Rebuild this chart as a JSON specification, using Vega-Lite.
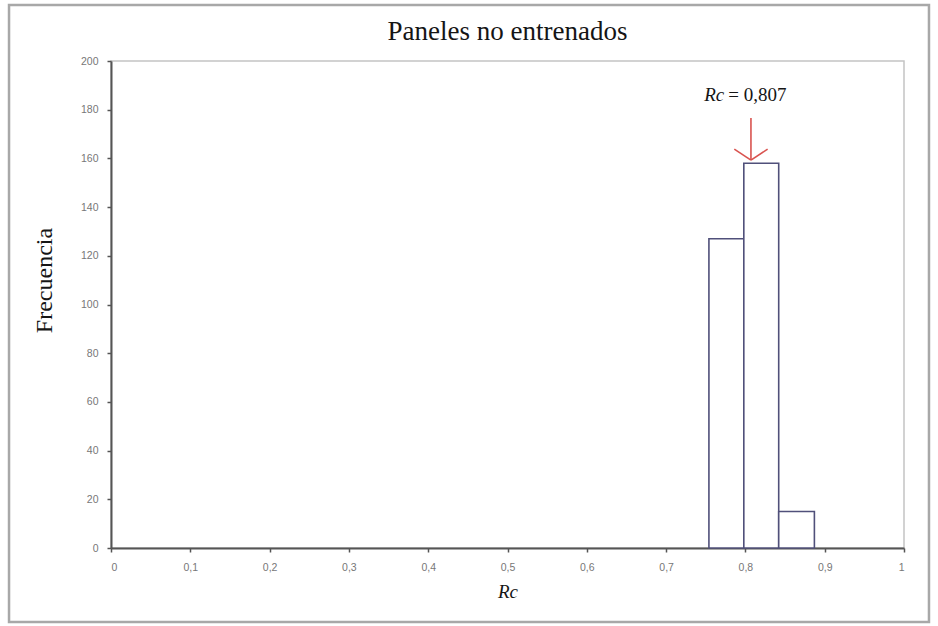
{
  "$schema": "https://vega.github.io/schema/vega-lite/v6.json",
  "width": 793,
  "height": 487,
  "autosize": {"type": "none"},
  "padding": {"left": 111, "top": 61, "right": 34, "bottom": 78},
  "background": "white",
  "title": {"text": "Paneles no entrenados", "font": "Liberation Serif", "fontSize": 27, "fontWeight": "normal", "color": "#151515", "anchor": "middle", "offset": -42},
  "config": {
    "view": {"stroke": "#c4c4c4", "strokeWidth": 1.5},
    "axis": {"grid": false, "domainColor": "#555", "domainWidth": 2, "tickColor": "#555", "tickWidth": 1.5, "tickSize": 4, "labelFont": "Liberation Sans", "labelFontSize": 10.5, "labelColor": "#777", "titleFont": "Liberation Serif", "titleFontWeight": "normal", "titleColor": "#151515"}
  },
  "datasets": {
    "bins": [
      {"lo": 0.754, "hi": 0.798, "count": 127},
      {"lo": 0.798, "hi": 0.842, "count": 158},
      {"lo": 0.842, "hi": 0.887, "count": 15}
    ],
    "arrow": [
      {"x": 0.807, "y": 176.6, "x2": 0.807, "y2": 159.3},
      {"x": 0.786, "y": 163.8, "x2": 0.807, "y2": 159.3},
      {"x": 0.828, "y": 163.8, "x2": 0.807, "y2": 159.3}
    ],
    "frame": [
      {"x": -0.1286, "x2": 1.0315, "y": 223.0, "y2": -30.4}
    ],
    "label": [
      {"x": 0.748, "y": 186, "t1": "Rc", "t2": "= 0,807"}
    ]
  },
  "layer": [
    {
      "data": {"name": "frame"},
      "mark": {"type": "rect", "fill": null, "stroke": "#a8a8a8", "strokeWidth": 2.5, "clip": false},
      "encoding": {
        "x": {"field": "x", "type": "quantitative", "scale": {"domain": [0, 1], "nice": false, "zero": false}},
        "x2": {"field": "x2"},
        "y": {"field": "y", "type": "quantitative", "scale": {"domain": [0, 200], "nice": false, "zero": false}},
        "y2": {"field": "y2"}
      }
    },
    {
      "data": {"name": "bins"},
      "mark": {"type": "rect", "fill": "white", "stroke": "#50507a", "strokeWidth": 1.6},
      "encoding": {
        "x": {"field": "lo", "type": "quantitative",
          "scale": {"domain": [0, 1], "nice": false, "zero": false},
          "axis": {"values": [0, 0.1, 0.2, 0.3, 0.4, 0.5, 0.6, 0.7, 0.8, 0.9, 1], "labelPadding": 10,
            "labelExpr": "datum.value == 0 ? '0' : datum.value == 1 ? '1' : replace(format(datum.value, '.1f'), '.', ',')",
            "title": "Rc", "titleFontSize": 19, "titleFontStyle": "italic", "titlePadding": 10}},
        "x2": {"field": "hi"},
        "y": {"field": "count", "type": "quantitative",
          "scale": {"domain": [0, 200], "nice": false},
          "axis": {"values": [0, 20, 40, 60, 80, 100, 120, 140, 160, 180, 200], "labelPadding": 9,
            "title": "Frecuencia", "titleFontSize": 24, "titlePadding": 24, "titleY": 219}},
        "y2": {"datum": 0}
      }
    },
    {
      "data": {"name": "arrow"},
      "mark": {"type": "rule", "color": "#d9534f", "strokeWidth": 1.6},
      "encoding": {
        "x": {"field": "x", "type": "quantitative"},
        "y": {"field": "y", "type": "quantitative"},
        "x2": {"field": "x2"},
        "y2": {"field": "y2"}
      }
    },
    {
      "data": {"name": "label"},
      "mark": {"type": "text", "font": "Liberation Serif", "fontSize": 19, "fontStyle": "italic", "align": "left", "baseline": "middle", "color": "#151515"},
      "encoding": {
        "x": {"field": "x", "type": "quantitative"},
        "y": {"field": "y", "type": "quantitative"},
        "text": {"field": "t1"}
      }
    },
    {
      "data": {"name": "label"},
      "mark": {"type": "text", "font": "Liberation Serif", "fontSize": 19, "align": "left", "baseline": "middle", "color": "#151515", "dx": 24},
      "encoding": {
        "x": {"field": "x", "type": "quantitative"},
        "y": {"field": "y", "type": "quantitative"},
        "text": {"field": "t2"}
      }
    }
  ]
}
